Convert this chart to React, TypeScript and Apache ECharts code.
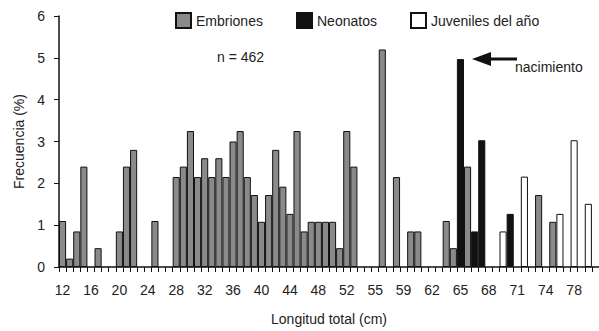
import React, { useEffect, useRef } from "react";
import * as echarts from "echarts";

const tickLabels = ["12", "16", "20", "24", "28", "32", "36", "40", "44", "48", "52", "55", "59", "62", "65", "68", "71", "74", "78"];

const categories: string[] = Array.from({ length: 76 }, (_, i) => "c" + i);

const embriones: (number | null)[] = [
  1.1, 0.2, 0.85, 2.4, null, 0.45, null, null, 0.85, 2.4,
  2.8, null, null, 1.1, null, null, 2.15, 2.4, 3.25, 2.15,
  2.6, 2.15, 2.6, 2.15, 3.0, 3.25, 2.15, 1.72, 1.08, 1.72,
  2.8, 1.92, 1.27, 3.25, 0.85, 1.08, 1.08, 1.08, 1.08, 0.45,
  3.25, 2.4, null, null, null, 5.2, null, 2.15, null, 0.85,
  0.85, null, null, null, 1.1, 0.45, null, 2.4, null, null,
  null, null, null, null, null, null, null, 1.72, null, 1.08,
  null, null, null, null, null, null,
];

const neonatos: (number | null)[] = [
  null, null, null, null, null, null, null, null, null, null,
  null, null, null, null, null, null, null, null, null, null,
  null, null, null, null, null, null, null, null, null, null,
  null, null, null, null, null, null, null, null, null, null,
  null, null, null, null, null, null, null, null, null, null,
  null, null, null, null, null, null, 4.97, null, 0.85, 3.03,
  null, null, null, 1.27, null, null, null, null, null, null,
  null, null, null, null, null, null,
];

const juveniles: (number | null)[] = [
  null, null, null, null, null, null, null, null, null, null,
  null, null, null, null, null, null, null, null, null, null,
  null, null, null, null, null, null, null, null, null, null,
  null, null, null, null, null, null, null, null, null, null,
  null, null, null, null, null, null, null, null, null, null,
  null, null, null, null, null, null, null, null, null, null,
  null, null, 0.85, null, null, 2.16, null, null, null, null,
  1.27, null, 3.03, null, 1.51, null,
];

const seriesNames = ["Embriones", "Neonatos", "Juveniles del año"];

const FONT = "'Liberation Sans', Arial, sans-serif";

export default function App() {
  const ref = useRef<HTMLDivElement>(null);
  useEffect(() => {
    document.body.style.margin = "0";
    if (!ref.current) return;
    const chart = echarts.init(ref.current, null, { renderer: "svg" });
    const barBase = {
      type: "bar" as const,
      stack: "total",
      barCategoryGap: "0%",
      barWidth: "100%",
    };
    const legendBase = {
      top: 12,
      padding: 0,
      itemWidth: 15,
      itemHeight: 15,
      icon: "rect",
      textStyle: { fontSize: 14, color: "#222", fontFamily: FONT },
    };
    const legendLefts = [175, 296, 410];
    chart.setOption({
      animation: false,
      backgroundColor: "#ffffff",
      textStyle: { fontFamily: FONT },
      grid: { left: 59, right: 0, top: 16, bottom: 63 },
      legend: seriesNames.map((n, i) => ({ ...legendBase, left: legendLefts[i], data: [n] })),
      xAxis: {
        type: "category",
        data: categories,
        name: "Longitud total (cm)",
        nameLocation: "middle",
        nameGap: 45,
        nameTextStyle: { fontSize: 14, color: "#222", fontFamily: FONT },
        axisLine: { lineStyle: { color: "#111", width: 1.5 } },
        axisTick: { show: true, interval: 0, length: 5, lineStyle: { color: "#111" } },
        axisLabel: {
          interval: 3,
          margin: 16,
          fontSize: 14,
          color: "#222",
          fontFamily: FONT,
          formatter: (_v: string, idx: number) => tickLabels[Math.round(idx / 4)] ?? "",
        },
      },
      yAxis: {
        type: "value",
        min: 0,
        max: 6,
        interval: 1,
        name: "Frecuencia (%)",
        nameLocation: "middle",
        nameGap: 33,
        nameRotate: 90,
        nameTextStyle: { fontSize: 14, color: "#222", fontFamily: FONT },
        splitLine: { show: false },
        axisLine: { show: true, lineStyle: { color: "#111", width: 1.5 } },
        axisTick: { show: true, length: 5, lineStyle: { color: "#111" } },
        axisLabel: { fontSize: 14, color: "#222", margin: 14, fontFamily: FONT },
      },
      series: [
        {
          ...barBase,
          name: seriesNames[0],
          data: embriones,
          itemStyle: { color: "#8a8a8a", borderColor: "#111", borderWidth: 1 },
        },
        {
          ...barBase,
          name: seriesNames[1],
          data: neonatos,
          itemStyle: { color: "#111111", borderColor: "#111", borderWidth: 1 },
        },
        {
          ...barBase,
          name: seriesNames[2],
          data: juveniles,
          itemStyle: { color: "#ffffff", borderColor: "#111", borderWidth: 1 },
        },
      ],
      graphic: [
        {
          type: "text",
          left: 217,
          top: 50,
          style: { text: "n = 462", fontSize: 14, fill: "#222", fontFamily: FONT },
        },
        {
          type: "polygon",
          shape: { points: [[472, 59], [491, 52], [491, 66]] },
          style: { fill: "#111" },
        },
        {
          type: "line",
          shape: { x1: 489, y1: 59, x2: 517, y2: 59 },
          style: { stroke: "#111", lineWidth: 3 },
        },
        {
          type: "text",
          left: 515,
          top: 60,
          style: { text: "nacimiento", fontSize: 14, fill: "#222", fontFamily: FONT },
        },
      ],
    });
    return () => chart.dispose();
  }, []);
  return <div ref={ref} style={{ width: 599, height: 331 }} />;
}
